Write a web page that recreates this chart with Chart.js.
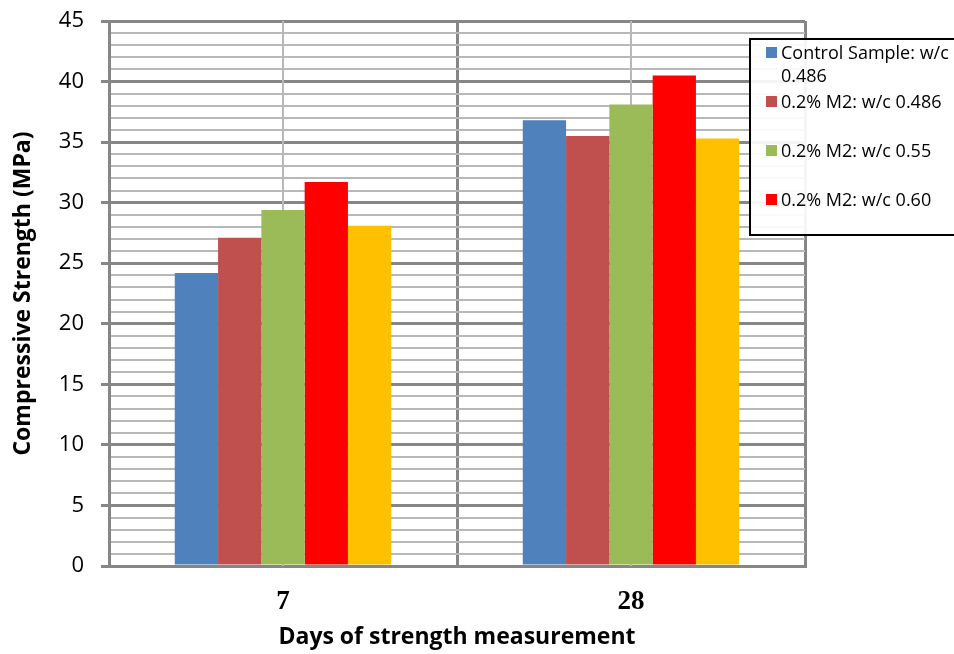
<!DOCTYPE html>
<html>
<head>
<meta charset="utf-8">
<script src="https://cdn.jsdelivr.net/npm/chart.js@4.4.1/dist/chart.umd.min.js"></script>
<style>
  html, body { margin: 0; padding: 0; background: #fff; overflow: hidden; }
  #wrap { position: relative; width: 954px; height: 654px; }
  #legend {
    position: absolute; left: 749px; top: 38px; width: 220px; height: 198px;
    box-sizing: border-box; border: 2px solid #000; background: rgba(255,255,255,0.92);
    font-family: 'Open Sans', sans-serif; font-size: 18px; color: #000;
  }
  .item { position: absolute; left: 0; }
  .swatch { position: absolute; left: 15px; top: 6px; width: 11px; height: 11px; }
  .label { position: absolute; left: 30px; width: 180px; line-height: 23px; white-space: normal; }
</style>
</head>
<body>
<div id="wrap">
  <canvas id="strengthChart" width="954" height="654"></canvas>
  <div id="legend"></div>
</div>
<script>
// --- data ---
const categories = ['7', '28'];
const seriesLabels = ['Control Sample: w/c 0.486', '0.2% M2: w/c 0.486', '0.2% M2: w/c 0.55', '0.2% M2: w/c 0.60', ''];
const seriesColors = ['#4F81BD', '#C0504D', '#9BBB59', '#FF0000', '#FFC000'];
const controlW486 = [24.2, 36.8];
const m2W486 = [27.1, 35.5];
const m2W55 = [29.4, 38.1];
const m2W60 = [31.7, 40.5];
const fifthSeries = [28.1, 35.3];
const seriesValues = [controlW486, m2W486, m2W55, m2W60, fifthSeries];
const yMajorTicks = [0, 5, 10, 15, 20, 25, 30, 35, 40, 45];

const MAJOR = '#868686';
const MINOR = '#b8b8b8';

// thin grey lines through the middle of each category
const centerLines = {
  id: 'centerLines',
  beforeDatasetsDraw(chart) {
    const { ctx, chartArea, scales: { x } } = chart;
    ctx.save();
    ctx.strokeStyle = MINOR;
    ctx.lineWidth = 2;
    categories.forEach((c, i) => {
      const px = Math.round(x.getPixelForValue(i));
      ctx.beginPath();
      ctx.moveTo(px, chartArea.top);
      ctx.lineTo(px, chartArea.bottom);
      ctx.stroke();
    });
    ctx.restore();
  }
};

new Chart(document.getElementById('strengthChart'), {
  type: 'bar',
  data: {
    labels: categories,
    datasets: seriesValues.map((vals, i) => ({
      label: seriesLabels[i],
      data: vals,
      backgroundColor: seriesColors[i],
      borderWidth: 0,
      categoryPercentage: 0.622,
      barPercentage: 1.0
    }))
  },
  options: {
    responsive: false,
    animation: false,
    layout: { padding: { left: 0, right: 149, top: 21, bottom: 0 } },
    plugins: { legend: { display: false }, tooltip: { enabled: false } },
    scales: {
      x: {
        afterFit: (scale) => { scale.height = 88; scale.paddingLeft = 0; scale.paddingRight = 0; },
        grid: { color: MAJOR, lineWidth: 3, drawTicks: false, offset: true },
        border: { color: MAJOR, width: 3 },
        ticks: {
          color: '#000', padding: 20,
          font: { family: "'Liberation Serif', serif", size: 27, weight: 'bold' }
        },
        title: {
          display: true, text: 'Days of strength measurement', color: '#000',
          padding: { top: 0, bottom: 3 },
          font: { family: "'Open Sans', sans-serif", size: 23, weight: 'bold' }
        }
      },
      y: {
        min: 0, max: 45,
        afterFit: (scale) => { scale.width = 109; scale.paddingTop = 0; scale.paddingBottom = 0; },
        grid: {
          color: (c) => yMajorTicks.includes(c.tick.value) ? MAJOR : MINOR,
          lineWidth: (c) => yMajorTicks.includes(c.tick.value) ? 3 : 2,
          tickColor: (c) => yMajorTicks.includes(c.tick.value) ? MAJOR : 'rgba(0,0,0,0)',
          tickLength: 8
        },
        border: { color: MAJOR, width: 3 },
        ticks: {
          stepSize: 1, autoSkip: false, maxTicksLimit: 100, color: '#000', padding: 17,
          font: { family: "'Open Sans', sans-serif", size: 22 },
          callback: (v) => yMajorTicks.includes(v) ? String(v) : ''
        },
        title: {
          display: true, text: 'Compressive Strength (MPa)', color: '#000',
          padding: { top: 10, bottom: 0 },
          font: { family: "'Open Sans', sans-serif", size: 23, weight: 'bold' }
        }
      }
    }
  },
  plugins: [centerLines]
});

// --- legend (only the labelled series appear, as in the original) ---
const legend = document.getElementById('legend');
seriesLabels.forEach((name, i) => {
  if (!name) return;
  const item = document.createElement('div');
  item.className = 'item';
  item.style.top = (1 + 49 * i) + 'px';
  item.innerHTML = '<div class="swatch" style="background:' + seriesColors[i] + '"></div>' +
    '<div class="label">' + name + '</div>';
  legend.appendChild(item);
});
</script>
</body>
</html>
